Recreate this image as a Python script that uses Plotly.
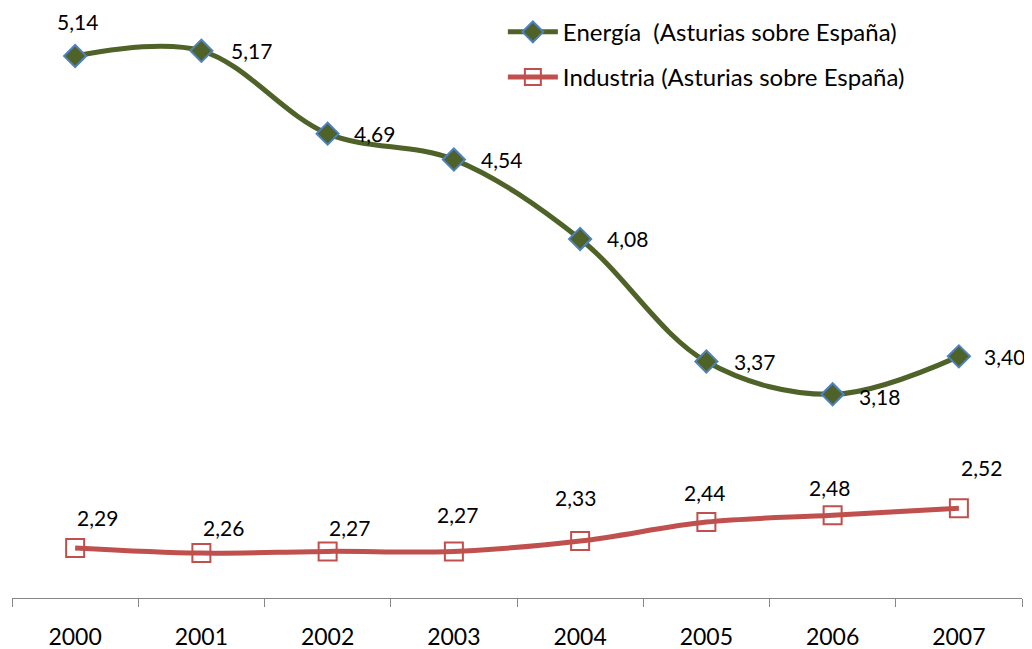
import plotly.graph_objects as go

# datos
anios = ['2000', '2001', '2002', '2003', '2004', '2005', '2006', '2007']
energia = [5.14, 5.17, 4.69, 4.54, 4.08, 3.37, 3.18, 3.40]
industria = [2.29, 2.26, 2.27, 2.27, 2.33, 2.44, 2.48, 2.52]

nombre_energia = 'Energía  (Asturias sobre España)'
nombre_industria = 'Industria (Asturias sobre España)'

# desplazamiento (px) del centro de las etiquetas, como en el original
despl_energia = [(2, 34), (50, 0), (47, 0), (48, 0), (47, 0), (48, 0), (47, -2), (46, 0)]
despl_industria = [(22, 30), (22, 26), (22, 24), (4, 37), (-5, 44), (-2, 30), (-3, 28), (23, 41)]

fuente = 'Lato'
verde = '#4F6228'
rojo = '#C0504D'

fig = go.Figure()

fig.add_trace(go.Scatter(
    x=anios, y=energia, name=nombre_energia, mode='lines+markers',
    line=dict(color=verde, width=5, shape='spline', smoothing=1),
    marker=dict(symbol='diamond', size=17, color=verde, line=dict(color='#4F81BD', width=2)),
    legendgroup='e'
))
fig.add_trace(go.Scatter(
    x=anios, y=industria, name=nombre_industria, mode='lines+markers',
    line=dict(color=rojo, width=5, shape='spline', smoothing=1),
    marker=dict(symbol='square-open', size=18, color=rojo, line=dict(color=rojo, width=2)),
    legendgroup='i'
))

def fmt(v):
    return f'{v:.2f}'.replace('.', ',')

for i, a in enumerate(anios):
    dx, dy = despl_energia[i]
    fig.add_annotation(
        x=i, y=energia[i], text=fmt(energia[i]), showarrow=False,
        xshift=dx, yshift=dy, font=dict(family=fuente, size=21, color='black')
    )
    dx, dy = despl_industria[i]
    fig.add_annotation(
        x=i, y=industria[i], text=fmt(industria[i]), showarrow=False,
        xshift=dx, yshift=dy, font=dict(family=fuente, size=21, color='black')
    )

# el html deja 8 px de margen en el body: se compensa aquí
fig.update_layout(
    width=1024, height=641,
    margin=dict(l=4, r=10, t=0, b=51),
    paper_bgcolor='white', plot_bgcolor='white',
    font=dict(family=fuente, size=22, color='black'),
    showlegend=True,
    legend=dict(
        x=0.486, y=0.997, xanchor='left', yanchor='top',
        bgcolor='rgba(0,0,0,0)', font=dict(family=fuente, size=24, color='black'),
        itemwidth=50, tracegroupgap=11, traceorder='grouped'
    ),
    xaxis=dict(
        type='category', showgrid=False, zeroline=False,
        showline=True, linecolor='#868686', linewidth=1,
        ticks='outside', tickson='boundaries', ticklen=8, tickcolor='#868686',
        tickfont=dict(family=fuente, size=23, color='black'),
        ticklabelstandoff=18, range=[-0.5, 7.5]
    ),
    yaxis=dict(visible=False, range=[2.0, 5.418]),
)

fig.write_html('out.html')
